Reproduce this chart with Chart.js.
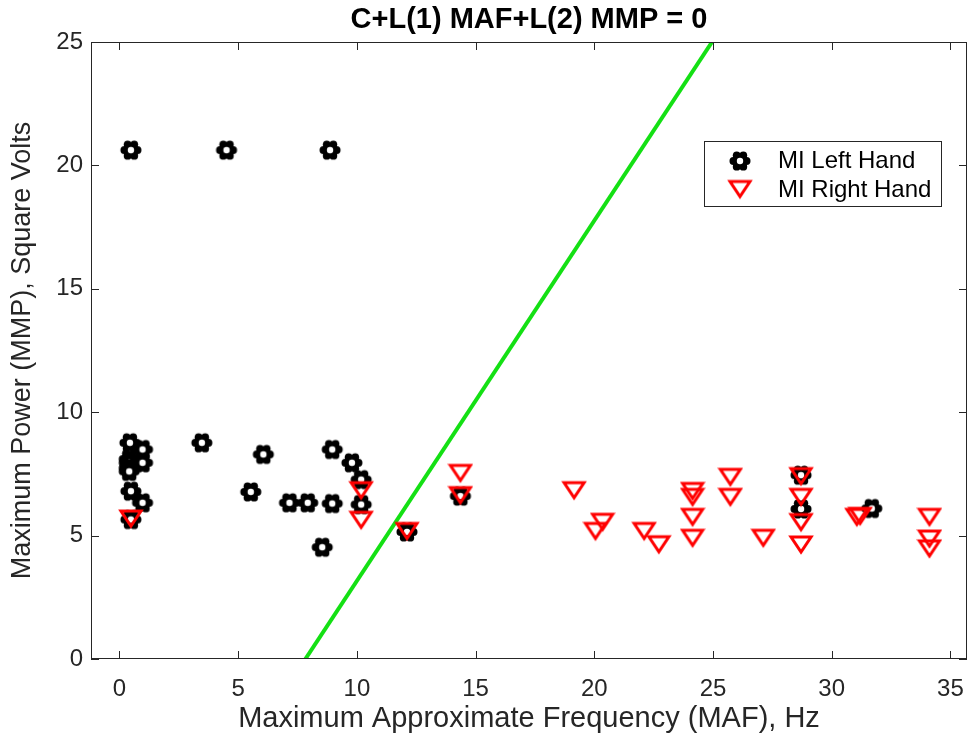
<!DOCTYPE html>
<html>
<head>
<meta charset="utf-8">
<script src="https://cdn.jsdelivr.net/npm/chart.js@4.4.1/dist/chart.umd.min.js"></script>
<style>
  html, body { margin: 0; padding: 0; background: #fff; overflow: hidden; }
  #wrap { width: 972px; height: 738px; }
  #chart { display: block; width: 972px; height: 738px; }
</style>
</head>
<body>
<div id="wrap"><canvas id="chart" width="972" height="738"></canvas></div>
<script>
// MI left hand trials: (MAF, MMP)
const leftX = [0.44, 0.97, 0.41, 0.41, 0.97, 0.41, 0.41, 0.48, 0.97, 0.48,
               3.47, 6.06, 5.53, 7.16, 7.93, 8.96, 8.96, 9.79, 10.18, 10.18,
               8.54, 12.11, 14.36, 28.71, 28.71, 31.69, 0.48, 4.51, 8.87];
const leftY = [8.76, 8.49, 8.10, 7.95, 7.95, 7.74, 7.60, 6.80, 6.33, 5.65,
               8.76, 8.29, 6.77, 6.33, 6.33, 6.30, 8.49, 7.95, 7.27, 6.26,
               4.53, 5.15, 6.60, 7.45, 6.08, 6.10, 20.62, 20.62, 20.62];

// MI right hand trials: (MAF, MMP)
const rightX = [0.48, 10.18, 10.18, 12.11, 14.36, 14.36, 19.15, 20.35, 20.05, 22.10,
                22.72, 24.14, 24.14, 24.14, 24.14, 25.73, 25.73, 27.12, 28.71, 28.71,
                28.71, 28.71, 31.06, 31.20, 34.12, 34.12, 34.12];
const rightY = [5.65, 6.80, 5.60, 5.15, 7.50, 6.60, 6.80, 5.52, 5.15, 5.15,
                4.61, 6.77, 6.53, 5.72, 4.87, 7.34, 6.53, 4.87, 7.37, 6.53,
                5.51, 4.60, 5.72, 5.76, 5.72, 4.84, 4.44];

// decision boundary C + L(1)*MAF + L(2)*MMP = 0
const lineX = [7.83, 24.96];
const lineY = [0, 25];

const xTicks = [0, 5, 10, 15, 20, 25, 30, 35];
const yTicks = [0, 5, 10, 15, 20, 25];

const AXIS = '#262626';
const FONT = "'Liberation Sans', Arial, Helvetica, sans-serif";
const TITLE = 'C+L(1) MAF+L(2) MMP = 0';

const pts = (xs, ys) => xs.map((x, i) => ({ x: x, y: ys[i] }));

// black flower-shaped 'o' marker with white centre
function flowerMarker() {
  const c = document.createElement('canvas');
  c.width = 24; c.height = 24;
  const g = c.getContext('2d');
  g.fillStyle = '#000';
  g.beginPath(); g.arc(12, 12, 7.8, 0, Math.PI * 2); g.fill();
  for (let k = 0; k < 6; k++) {
    const a = k * Math.PI / 3;
    g.beginPath();
    g.arc(12 + 6.6 * Math.cos(a), 12 + 6.6 * Math.sin(a), 3.9, 0, Math.PI * 2);
    g.fill();
  }
  g.fillStyle = '#fff';
  g.beginPath(); g.arc(12, 12, 3.2, 0, Math.PI * 2); g.fill();
  return c;
}

// red downward triangle outline
function triangleMarker() {
  const c = document.createElement('canvas');
  c.width = 26; c.height = 23;
  const g = c.getContext('2d');
  g.strokeStyle = '#ff0000';
  g.lineWidth = 3;
  g.beginPath();
  g.moveTo(3, 3); g.lineTo(23, 3); g.lineTo(13, 18); g.closePath();
  g.stroke();
  return c;
}

const flower = flowerMarker();
const tri = triangleMarker();

// axes box with inward ticks, x tick labels, title and legend
const frame = {
  id: 'frame',
  afterDraw(chart) {
    const { ctx, chartArea: a, scales: { x, y } } = chart;
    const tl = 8;
    ctx.save();
    ctx.strokeStyle = AXIS;
    ctx.lineWidth = 1;
    ctx.strokeRect(a.left + 0.5, a.top + 0.5, a.right - a.left - 1, a.bottom - a.top - 1);
    ctx.beginPath();
    xTicks.forEach(v => {
      const px = Math.round(x.getPixelForValue(v)) + 0.5;
      ctx.moveTo(px, a.bottom); ctx.lineTo(px, a.bottom - tl);
      ctx.moveTo(px, a.top); ctx.lineTo(px, a.top + tl);
    });
    yTicks.forEach(v => {
      const py = Math.round(y.getPixelForValue(v)) + 0.5;
      ctx.moveTo(a.left, py); ctx.lineTo(a.left + tl, py);
      ctx.moveTo(a.right, py); ctx.lineTo(a.right - tl, py);
    });
    ctx.stroke();

    ctx.fillStyle = AXIS;
    ctx.font = '24px ' + FONT;
    ctx.textAlign = 'center';
    ctx.textBaseline = 'middle';
    xTicks.forEach(v => ctx.fillText(String(v), x.getPixelForValue(v), a.bottom + 30));

    // title
    ctx.fillStyle = '#000';
    ctx.font = 'bold 29px ' + FONT;
    ctx.fillText(TITLE, (a.left + a.right) / 2, 20);

    // legend
    ctx.fillStyle = '#fff';
    ctx.fillRect(704.5, 141.5, 237, 65);
    ctx.strokeStyle = AXIS;
    ctx.strokeRect(704.5, 141.5, 237, 65);
    ctx.drawImage(flower, 740 - flower.width / 2, 161 - flower.height / 2);
    ctx.drawImage(tri, 740 - tri.width / 2, 190 - tri.height / 2);
    ctx.fillStyle = '#000';
    ctx.font = '24px ' + FONT;
    ctx.textAlign = 'left';
    ctx.fillText('MI Left Hand', 778, 161);
    ctx.fillText('MI Right Hand', 778, 190);
    ctx.restore();
  }
};

new Chart(document.getElementById('chart'), {
  type: 'scatter',
  data: {
    datasets: [
      { label: 'MI Right Hand', data: pts(rightX, rightY), pointStyle: tri, pointRadius: 10, order: 0 },
      { label: 'MI Left Hand', data: pts(leftX, leftY), pointStyle: flower, pointRadius: 10, order: 1 },
      { type: 'line', label: 'Boundary', data: pts(lineX, lineY), borderColor: '#14e014',
        borderWidth: 4, pointRadius: 0, fill: false, order: 2 }
    ]
  },
  options: {
    responsive: false,
    animation: false,
    devicePixelRatio: 1,
    layout: { autoPadding: false, padding: { left: 0, top: 42, right: 5, bottom: 0 } },
    plugins: { legend: { display: false }, tooltip: { enabled: false } },
    scales: {
      x: {
        type: 'linear', min: -1.2, max: 35.7,
        afterBuildTicks: s => { s.ticks = xTicks.map(v => ({ value: v })); },
        afterFit: s => { s.height = 79; },
        grid: { display: false },
        border: { display: false },
        ticks: { display: false },
        title: { display: true, text: 'Maximum Approximate Frequency (MAF), Hz', color: AXIS,
                 font: { family: FONT, size: 29 }, padding: { top: 0, bottom: 2 } }
      },
      y: {
        type: 'linear', min: 0, max: 25,
        afterBuildTicks: s => { s.ticks = yTicks.map(v => ({ value: v })); },
        afterFit: s => { s.width = 91; },
        grid: { display: false },
        border: { display: false },
        ticks: { padding: 0, color: AXIS, font: { family: FONT, size: 24 } },
        title: { display: true, text: 'Maximum Power (MMP), Square Volts', color: AXIS,
                 font: { family: FONT, size: 27 }, padding: { top: 6, bottom: 0 } }
      }
    }
  },
  plugins: [frame]
});
</script>
</body>
</html>
